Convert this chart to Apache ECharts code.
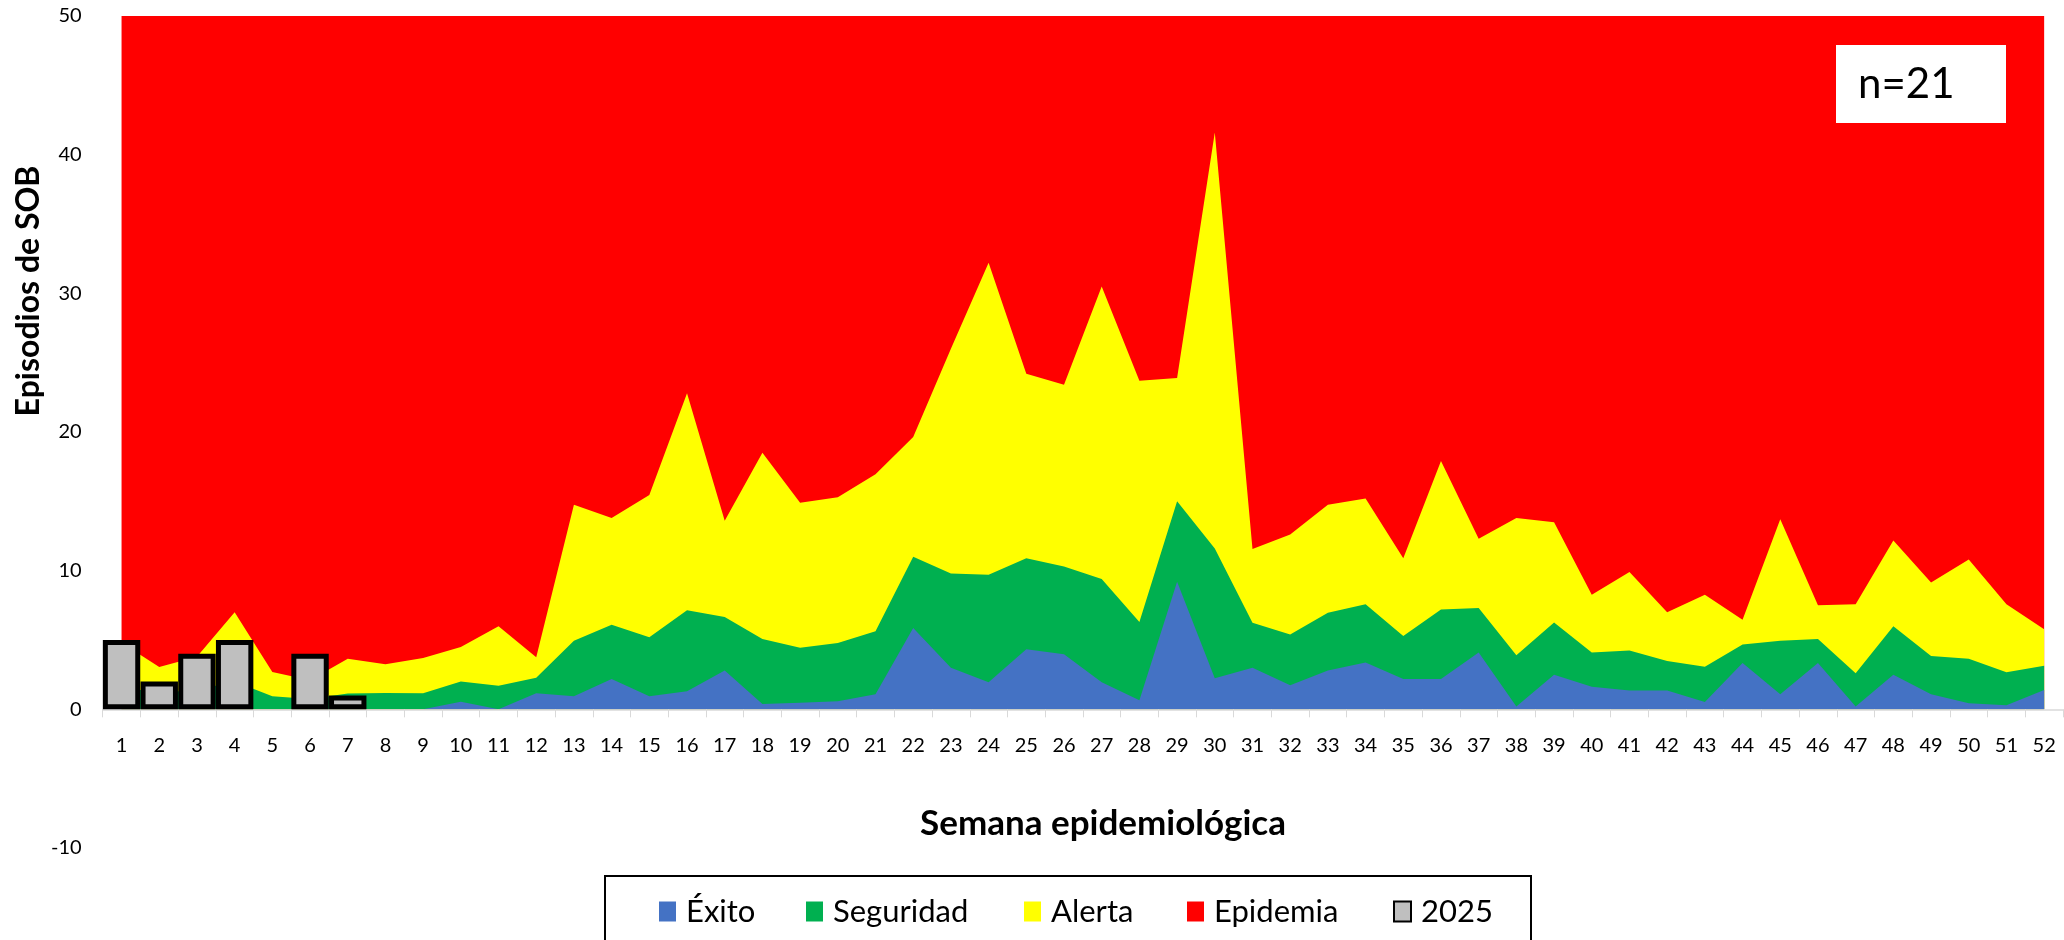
<!DOCTYPE html>
<html>
<head>
<meta charset="utf-8">
<script src="https://cdn.jsdelivr.net/npm/echarts@6/dist/echarts.min.js"></script>
<style>
html,body{margin:0;padding:0;background:#fff;}
#chart{width:2064px;height:940px;}
</style>
</head>
<body>
<div id="chart"></div>
<script>
// Semanas epidemiológicas
const weeks = ['1','2','3','4','5','6','7','8','9','10','11','12','13','14','15','16','17','18','19','20','21','22','23','24','25','26','27','28','29','30','31','32','33','34','35','36','37','38','39','40','41','42','43','44','45','46','47','48','49','50','51','52'];
// Canal endémico: límites superiores de cada zona
const exito = [0,0,0,0,0,0,0,0,0,0.55,0,1.16,0.94,2.18,0.94,1.3,2.8,0.39,0.47,0.58,1.08,5.86,3.0,1.96,4.34,3.98,1.95,0.66,9.2,2.24,3.0,1.74,2.8,3.37,2.18,2.18,4.1,0.2,2.5,1.63,1.35,1.35,0.52,3.34,1.08,3.34,0.2,2.5,1.08,0.44,0.3,1.4];
const seguridad = [1.6,1.2,1.4,2.0,0.94,0.75,1.15,1.18,1.16,2.0,1.7,2.27,4.95,6.1,5.2,7.15,6.66,5.08,4.45,4.78,5.64,11.0,9.8,9.7,10.9,10.3,9.4,6.3,15.0,11.6,6.24,5.4,6.96,7.57,5.28,7.2,7.3,3.9,6.27,4.1,4.25,3.48,3.07,4.67,4.94,5.08,2.6,6.0,3.84,3.65,2.68,3.15];
const alerta = [4.8,3.05,3.8,7.0,2.7,2.1,3.65,3.25,3.7,4.5,6.0,3.75,14.75,13.8,15.45,22.8,13.6,18.5,14.9,15.3,16.96,19.64,26.0,32.2,24.2,23.4,30.5,23.7,23.9,41.6,11.57,12.6,14.75,15.2,10.9,17.9,12.3,13.8,13.5,8.26,9.9,7.0,8.26,6.46,13.7,7.5,7.57,12.18,9.14,10.8,7.57,5.77];
const epidemiaTop = 50;
const epidemia = weeks.map(() => epidemiaTop);
// Casos 2025
const casos2025 = [5,2,4,5,null,4,1];
const yTicks = [-10,0,10,20,30,40,50];

const FONT = 'Lato, "Open Sans", sans-serif';
const chart = echarts.init(document.getElementById('chart'), null, {renderer:'canvas'});

const gridTop = 16, gridBottom = 92;
const plotH = 940 - gridTop - gridBottom;
const yMin = yTicks[0], yMax = yTicks[yTicks.length-1];
// distance from bottom edge of grid up to value 0
const zeroOffset = plotH * (0 - yMin) / (yMax - yMin);

function areaSeries(name, data, color){
  return {
    name, type:'line', data, symbol:'none', smooth:false,
    lineStyle:{width:0, color},
    itemStyle:{color},
    areaStyle:{color, opacity:1},
    silent:true
  };
}
function legendFor(name, left, isBar){
  return {
    data:[name], left:left, top:896, padding:0,
    icon:'rect', itemWidth:17, itemHeight:20,
    itemStyle: isBar ? {} : {borderWidth:0},
    textStyle:{fontFamily:FONT, fontSize:31, color:'#000', padding:[0,0,0,5]},
    selectedMode:false
  };
}

const option = {
  animation:false,
  backgroundColor:'#fff',
  grid:{left:102.7, right:1, top:gridTop, bottom:gridBottom, containLabel:false},
  xAxis:{
    type:'category', data:weeks, boundaryGap:true,
    offset:-zeroOffset,
    axisLine:{onZero:false, lineStyle:{color:'#D9D9D9', width:1.5}},
    axisTick:{show:true, alignWithLabel:false, interval:0, length:8, lineStyle:{color:'#D9D9D9'}},
    axisLabel:{interval:0, margin:26, color:'#000', fontFamily:FONT, fontSize:20},
    splitLine:{show:false},
    z:3
  },
  yAxis:{
    type:'value', min:yMin, max:yMax, interval:10,
    axisLine:{show:false}, axisTick:{show:false}, splitLine:{show:false},
    axisLabel:{margin:21, color:'#000', fontFamily:FONT, fontSize:20}
  },
  legend:[
    legendFor('Éxito', 659),
    legendFor('Seguridad', 806),
    legendFor('Alerta', 1024),
    legendFor('Epidemia', 1187),
    legendFor('2025', 1393, true)
  ],
  series:[
    areaSeries('Epidemia', epidemia, '#FF0000'),
    areaSeries('Alerta', alerta, '#FFFF00'),
    areaSeries('Seguridad', seguridad, '#00B050'),
    areaSeries('Éxito', exito, '#4472C4'),
    {
      name:'2025', type:'bar', data:casos2025, barWidth:37.4,
      itemStyle:{color:'#BFBFBF', borderColor:'#000', borderWidth:5},
      silent:true, z:5
    }
  ],
  graphic:[
    {type:'text', x:29, y:291, rotation:Math.PI/2,
     style:{text:'Episodios de SOB', fill:'#000', font:'bold 32px '+FONT, textAlign:'center', textVerticalAlign:'middle'}},
    {type:'text', x:1103, y:824,
     style:{text:'Semana epidemiológica', fill:'#000', font:'bold 35px '+FONT, textAlign:'center', textVerticalAlign:'middle'}},
    {type:'rect', shape:{x:1836, y:45, width:170, height:78}, style:{fill:'#fff'}, z:100},
    {type:'text', x:1858, y:84, z:101,
     style:{text:'n=21', fill:'#000', font:'42px '+FONT, textAlign:'left', textVerticalAlign:'middle'}},
    {type:'rect', shape:{x:605, y:876, width:926, height:90}, style:{fill:'none', stroke:'#000', lineWidth:2}, z:100}
  ]
};
chart.setOption(option);
</script>
</body>
</html>
